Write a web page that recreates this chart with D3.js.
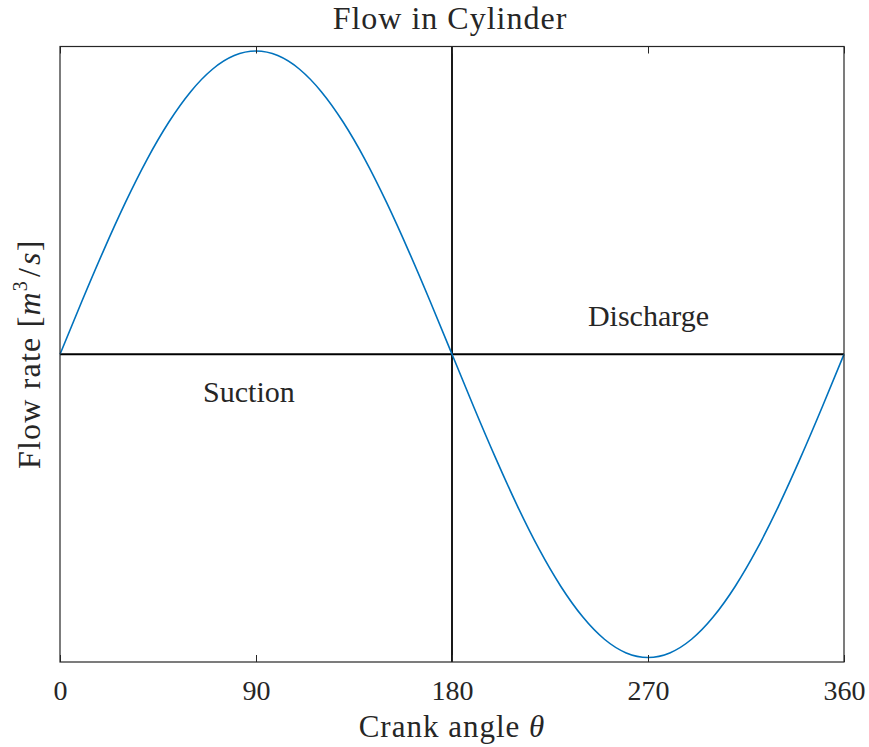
<!DOCTYPE html>
<html>
<head>
<meta charset="utf-8">
<script src="https://cdn.jsdelivr.net/npm/d3@7"></script>
<style>
body { margin: 0; background: #fff; }
text { font-family: "Liberation Serif", "Times New Roman", serif; fill: #262626; }
</style>
</head>
<body>
<script>
var width = 869, height = 747;

// crank angle (deg) and flow rate
var angles = [0,10,20,30,40,50,60,70,80,90,100,110,120,130,140,150,160,170,180,
              190,200,210,220,230,240,250,260,270,280,290,300,310,320,330,340,350,360];
var flow = [0,0.174,0.342,0.5,0.643,0.766,0.866,0.94,0.985,1,0.985,0.94,0.866,0.766,0.643,0.5,0.342,0.174,0,
            -0.174,-0.342,-0.5,-0.643,-0.766,-0.866,-0.94,-0.985,-1,-0.985,-0.94,-0.866,-0.766,-0.643,-0.5,-0.342,-0.174,0];
var xTicks = [0, 90, 180, 270, 360];
var regions = [{name: "Suction", x: 65.7, y: -0.157}, {name: "Discharge", x: 242.4, y: 0.094}];

var margin = {top: 46.5, right: 25, bottom: 85, left: 60};

var svg = d3.select("body")
.append("svg")
.attr("width", width)
.attr("height", height)
.attr("id","svg");

var x = d3.scaleLinear().domain([0, 360]).range([margin.left, width - margin.right]);
var y = d3.scaleLinear().domain([-1.015, 1.015]).range([height - margin.bottom, margin.top]);

var plot = svg.append("g").attr("id","mainGroup");

// zero lines
plot.append("line")
.attr("x1", x(0)).attr("x2", x(360))
.attr("y1", y(0)).attr("y2", y(0))
.attr("stroke","black").attr("stroke-width",1.8);
plot.append("line")
.attr("x1", x(180)).attr("x2", x(180))
.attr("y1", y.range()[0]).attr("y2", y.range()[1])
.attr("stroke","black").attr("stroke-width",1.8);

// the curve
var line = d3.line()
.x(function(d, i){ return x(angles[i]); })
.y(function(d){ return y(d); })
.curve(d3.curveNatural);

plot.append("path")
.datum(flow)
.attr("d", line)
.attr("fill","none")
.attr("stroke","#0072BD")
.attr("stroke-width",1.6);

// axes (ticks inward, top and bottom)
var bottomAxis = d3.axisBottom(x).tickValues(xTicks).tickSize(-7).tickPadding(18);
var topAxis = d3.axisTop(x).tickValues(xTicks).tickSize(-7).tickFormat("");

var gb = svg.append("g")
.attr("transform","translate(0," + y.range()[0] + ")")
.call(bottomAxis);
var gt = svg.append("g")
.attr("transform","translate(0," + y.range()[1] + ")")
.call(topAxis);

[gb, gt].forEach(function(g){
    g.select(".domain").remove();
    g.selectAll(".tick line").attr("stroke","#262626");
});
gb.selectAll(".tick text")
.style("font-family","'Liberation Serif', serif")
.style("font-size","28px")
.attr("fill","#262626");

// box
svg.append("rect")
.attr("x", x(0)).attr("y", y.range()[1])
.attr("width", x(360) - x(0))
.attr("height", y.range()[0] - y.range()[1])
.attr("fill","none")
.attr("stroke","#262626")
.attr("stroke-width",1.2);

// region labels
svg.selectAll(".region")
.data(regions)
.enter().append("text")
.attr("class","region")
.attr("x", function(d){ return x(d.x); })
.attr("y", function(d){ return y(d.y); })
.attr("font-size", 30)
.attr("fill","#000")
.text(function(d){ return d.name; });

// title
svg.append("text")
.attr("x", 450).attr("y", 29)
.attr("text-anchor","middle")
.attr("font-size", 32)
.attr("letter-spacing", 1)
.attr("fill","#000")
.text("Flow in Cylinder");

// x label
var xl = svg.append("text")
.attr("x", 452).attr("y", 737)
.attr("text-anchor","middle")
.attr("font-size", 31)
.attr("letter-spacing", 1)
.attr("fill","#262626");
xl.append("tspan").text("Crank angle ");
xl.append("tspan").attr("font-style","italic").text("\u03b8");

// y label
var yl = svg.append("text")
.attr("transform","translate(40," + y(0) + ") rotate(-90)")
.attr("text-anchor","middle")
.attr("font-size", 32)
.attr("letter-spacing", 1.2)
.attr("fill","#262626");
yl.append("tspan").text("Flow rate [");
yl.append("tspan").attr("font-style","italic").text("m");
yl.append("tspan").attr("font-size", 20).attr("dy", -13).text("3");
yl.append("tspan").attr("dy", 13).attr("dx", 3).text("/");
yl.append("tspan").attr("font-style","italic").attr("dx", 2).text("s");
yl.append("tspan").text("]");
</script>
</body>
</html>
